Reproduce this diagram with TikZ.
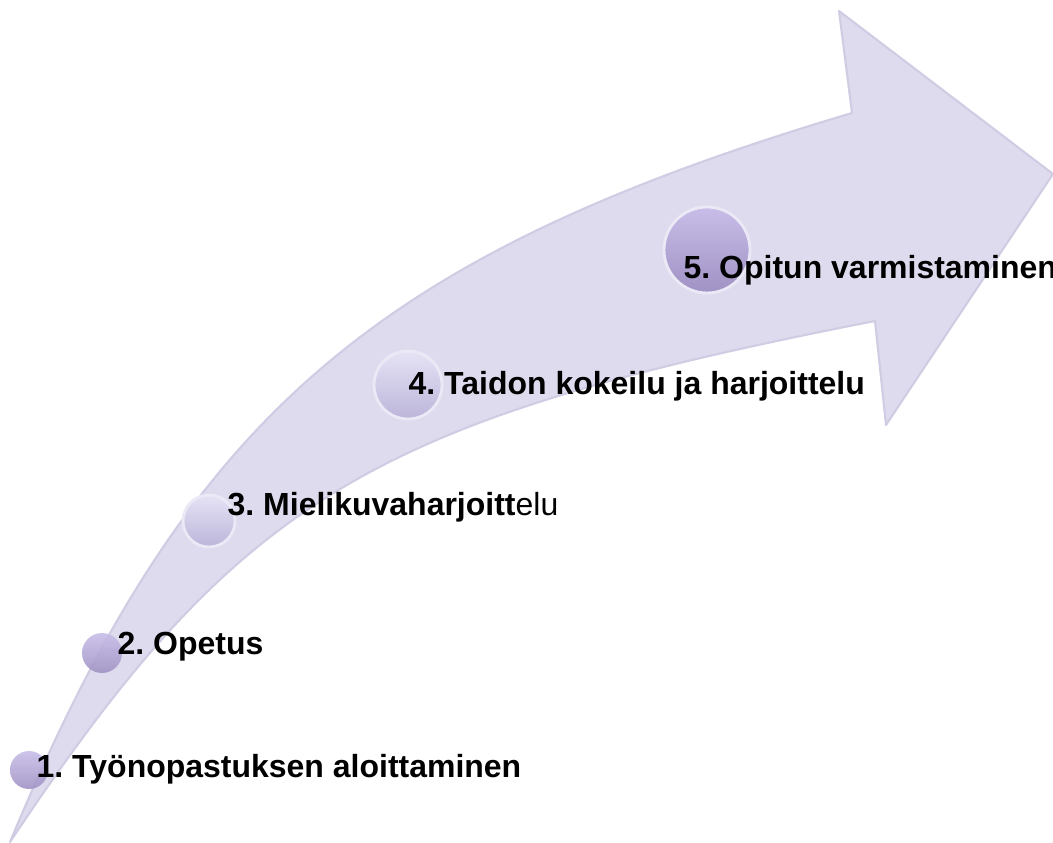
\documentclass[tikz,border=0pt]{standalone}
\usepackage{fontspec}
\setmainfont{Liberation Sans}
\frenchspacing
\definecolor{bandfill}{RGB}{221,219,237}
\definecolor{bandedge}{RGB}{208,204,228}
\definecolor{beadpale}{RGB}{230,227,245}
\definecolor{beadgrey}{RGB}{188,181,218}
\definecolor{beadlilac}{RGB}{200,190,232}
\definecolor{beadplum}{RGB}{160,146,196}
\definecolor{beadrim}{RGB}{236,233,246}
\tikzset{
    band/.style={fill=bandfill, draw=bandedge, line width=0.6pt, line join=round},
    bead/.style={circle, inner sep=0pt, draw=beadrim, line width=0.8pt, shading angle=35},
    pale/.style={style=bead, top color=beadpale, bottom color=beadgrey}, % light beads
    plum/.style={style=bead, top color=beadlilac, bottom color=beadplum}, % darker beads
    stagetext/.style={anchor=base west, inner sep=0pt, font=\fontsize{9.1}{11}\selectfont\bfseries}
}

\begin{document}
\begin{tikzpicture}[x=0.1mm, y=-0.1mm]
          \useasboundingbox (0,0) rectangle (1053,843);
          \coordinate (tail) at (10,842);
          \coordinate (upper) at (852,113);
          \coordinate (lower) at (875,321);
          \coordinate (barb1) at (839,11);
          \coordinate (tip) at (1053,174);
          \coordinate (barb2) at (886,425);

          \fill[band] (tail) .. controls (187,417) and (372,256) .. (upper)
                -- (barb1) -- (tip) -- (barb2) -- (lower)
                .. controls (368,420) and (238,500) .. (tail) -- cycle;

          \node[plum, minimum size=3.8mm, draw=none, opacity=0.9] (c1) at (29,770) {};
          \node[plum, minimum size=4mm, draw=none, opacity=0.9] (c2) at (102,653) {};
          \node[pale, minimum size=5.2mm] (c3) at (209,521) {};
          \node[pale, minimum size=6.8mm] (c4) at (408,385) {};
          \node[plum, minimum size=8.6mm] (c5) at (707,250) {};

          \node[stagetext] (t1) at (36,777) {1. Työnopastuksen aloittaminen};
          \node[stagetext] (t2) at (117,654) {2. Opetus};
          \node[stagetext] (t3) at (227,516) {3. Mielikuvaharjoitt\mdseries elu};
          \node[stagetext] (t4) at (408,395) {4. Taidon kokeilu ja harjoittelu};
          \node[stagetext] (t5) at (683,279) {5. Opitun varmistaminen};
        \end{tikzpicture}
\end{document}
